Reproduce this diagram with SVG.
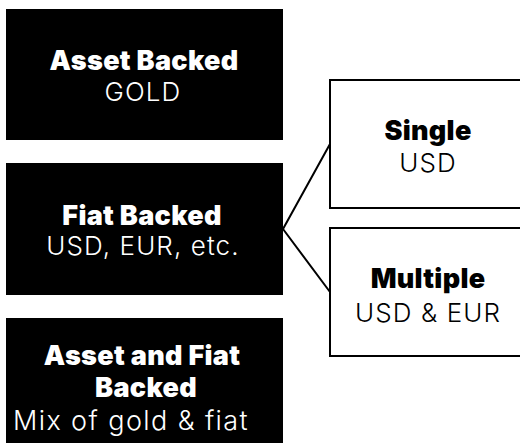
<svg xmlns="http://www.w3.org/2000/svg" width="520" height="443" viewBox="0 0 520 443">
<style>
.dark{fill:#000}
.light{fill:#fff;stroke:#000;stroke-width:2}
.b{font-family:Inter,"Noto Sans",sans-serif;font-weight:900;font-size:27px;letter-spacing:0.3px;text-anchor:middle}
.r{font-family:Inter,"Noto Sans",sans-serif;font-weight:300;font-size:26px;letter-spacing:1.1px;text-anchor:middle}
.wide{font-size:27px;letter-spacing:1.4px}
.w{fill:#fff}
.k{fill:#000}
.conn{fill:none;stroke:#000;stroke-width:2}
</style>
<rect width="520" height="443" fill="#fff"/>
<g id="asset-backed">
<rect class="dark" x="6" y="9" width="277" height="131"/>
<text class="b w" x="144" y="70">Asset Backed</text>
<text class="r w" x="143" y="101">GOLD</text>
</g>
<g id="fiat-backed">
<rect class="dark" x="6" y="163" width="277" height="132"/>
<text class="b w" x="142" y="225">Fiat Backed</text>
<text class="r w" x="143" y="255">USD, EUR, etc.</text>
</g>
<g id="asset-fiat-backed">
<rect class="dark" x="6" y="318" width="277" height="132"/>
<text class="b w" x="142" y="365">Asset and Fiat</text>
<text class="b w" x="146" y="397">Backed</text>
<text class="r wide w" x="131" y="430">Mix of gold &amp; fiat</text>
</g>
<g id="single">
<rect class="light" x="330" y="80" width="200" height="128"/>
<text class="b k" x="428" y="140">Single</text>
<text class="r k" x="428" y="172">USD</text>
</g>
<g id="multiple">
<rect class="light" x="330" y="228" width="200" height="128"/>
<text class="b k" x="428" y="288">Multiple</text>
<text class="r k" x="428" y="322">USD &amp; EUR</text>
</g>
<g id="connectors">
<polyline class="conn" points="330,144 283,229 330,292"/>
</g>
</svg>
